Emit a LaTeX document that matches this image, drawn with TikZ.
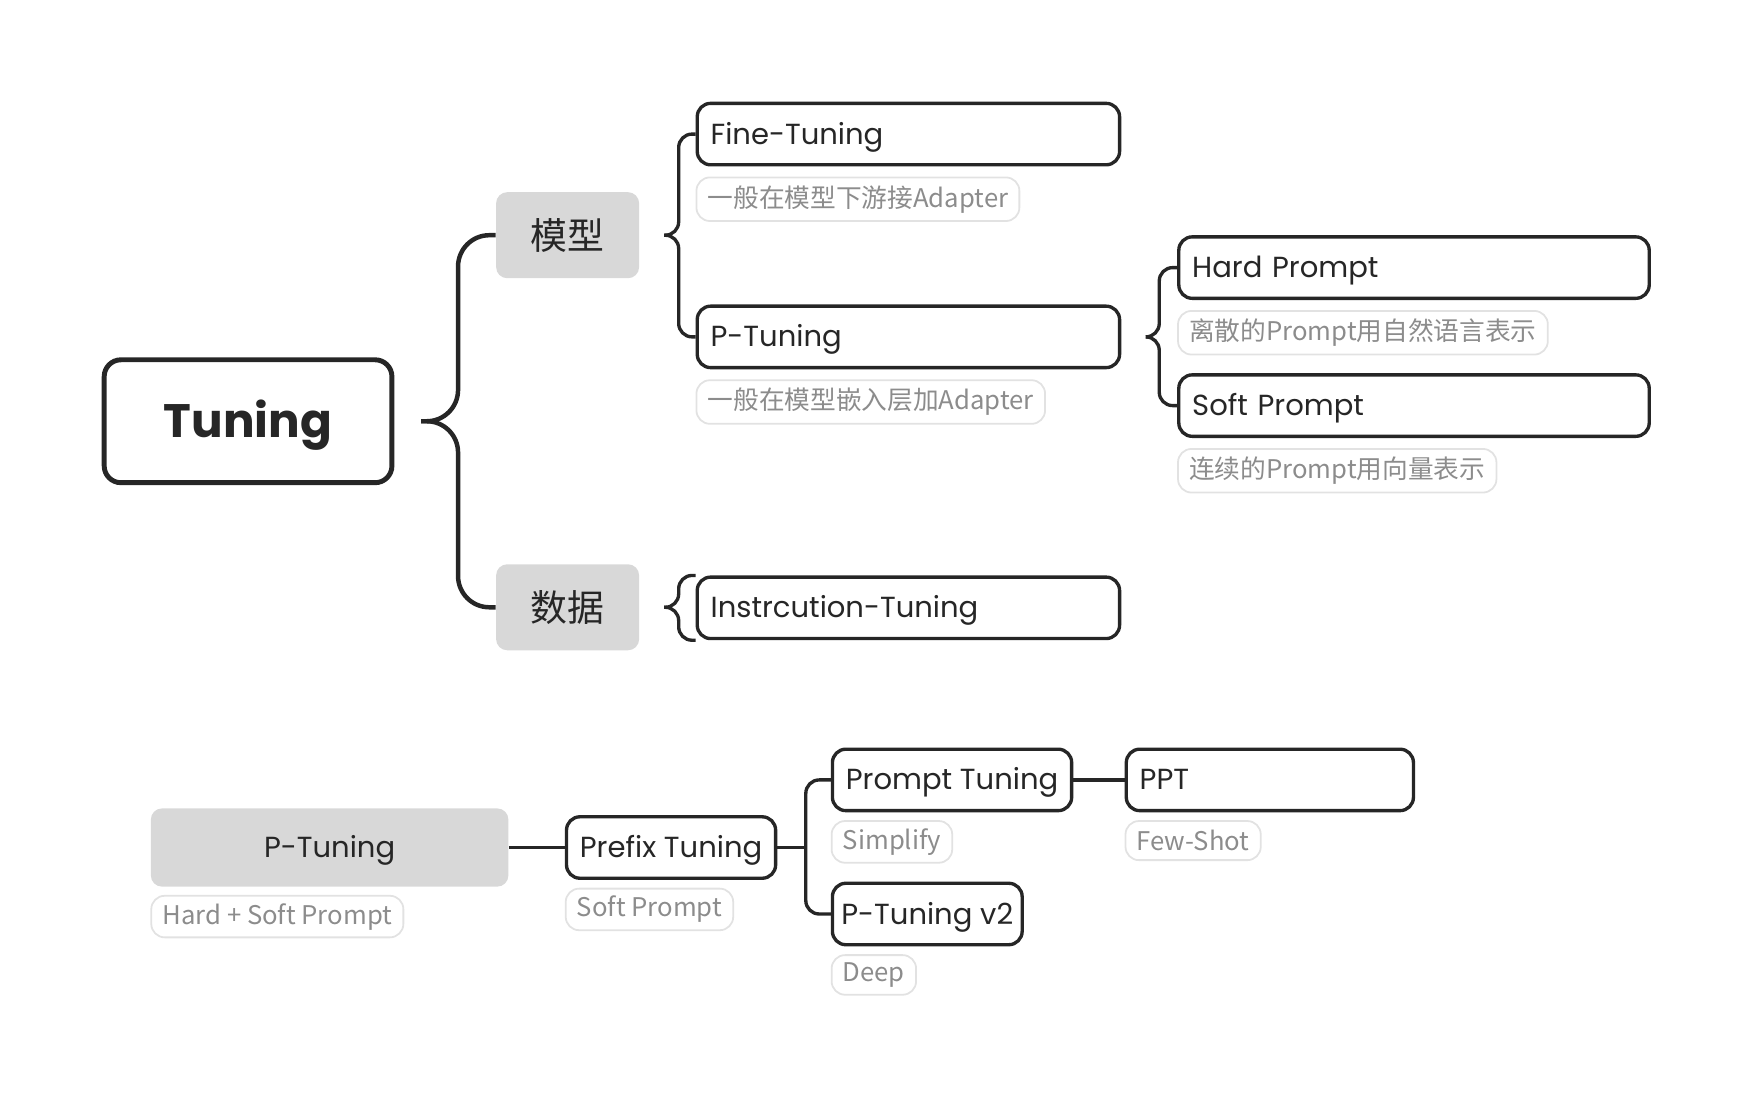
\documentclass[tikz,border=0pt]{standalone}
\usepackage{fontspec}
\setmainfont{Poppins}
\newfontfamily\cjk{Noto Sans CJK SC}
\usetikzlibrary{positioning}
\definecolor{ink}{HTML}{262626}
\definecolor{greyFill}{HTML}{D8D8D8}
\definecolor{noteText}{HTML}{8C8C8C}
\definecolor{noteLine}{HTML}{E2E2E2}
\tikzstyle{rootBox} = [draw=ink, line width=2.2pt, rounded corners=7.5pt,
   minimum width=128.75pt, minimum height=55pt, text=ink,
   text height=17pt, text depth=2.3pt,
   font=\fontsize{21}{24}\selectfont\bfseries]
\tikzstyle{greyBox} = [fill=greyFill, rounded corners=5pt, text=ink]
\tikzstyle{topicBox} = [greyBox, minimum width=64pt, minimum height=38.5pt,
   font=\cjk\fontsize{16.5}{18}\selectfont]
\tikzstyle{itemBox} = [draw=ink, line width=1.5pt, rounded corners=6pt,
   anchor=west, inner xsep=6pt, minimum height=27.5pt, align=left,
   text height=11pt, text depth=2pt,
   text=ink, font=\fontsize{13}{15}\selectfont]
\tikzstyle{noteBox} = [draw=noteLine, line width=0.8pt, rounded corners=6pt,
   inner xsep=5pt, minimum height=19.5pt, text=noteText,
   font=\cjk\fontsize{11.5}{13}\selectfont]
\tikzstyle{link} = [draw=ink, line width=1.5pt, rounded corners=6pt]
\tikzstyle{rootLink} = [draw=ink, line width=2pt, rounded corners=14pt]
\begin{document}
\begin{tikzpicture}[x=0.5pt, y=-0.5pt]
  \useasboundingbox (0,0) rectangle (1568,984.5);

  % upper map
  \node[rootBox] (tun) at (222,377) {Tuning};
  \node[topicBox] (mx) at (508,210.5) {模型};
  \node[topicBox] (sj) at (508,543.5) {数据};

  \node[itemBox, text width=177pt] (ft) at (622.5,120) {Fine-Tuning};
  \node[noteBox, below right=4.5pt and 0pt of ft.south west] (ftn) {一般在模型下游接Adapter};
  \node[itemBox, text width=177pt] (pt) at (622.5,301.5) {P-Tuning};
  \node[noteBox, below right=4.5pt and 0pt of pt.south west] (ptn) {一般在模型嵌入层加Adapter};
  \node[itemBox, text width=198.5pt] (hp) at (1053.5,239.5) {Hard Prompt};
  \node[noteBox, below right=4.5pt and 0pt of hp.south west] (hpn) {离散的Prompt用自然语言表示};
  \node[itemBox, text width=198.5pt] (sp) at (1053.5,363) {Soft Prompt};
  \node[noteBox, below right=4.5pt and 0pt of sp.south west] (spn) {连续的Prompt用向量表示};
  \node[itemBox, text width=177pt] (it) at (622.5,544) {Instrcution-Tuning};

  % brace tips and stems
  \coordinate[right=12pt of tun.east] (tunc);
  \coordinate[right=28.5pt of tun.east] (tunv);
  \coordinate[right=11pt of mx.east] (mxc);
  \coordinate[right=17.5pt of mx.east] (mxv);
  \coordinate[right=11pt of sj.east] (sjc);
  \coordinate[right=17.5pt of sj.east] (sjv);
  \coordinate[right=12pt of pt.east] (ptc);
  \coordinate[right=17pt of pt.east] (ptv);

  \draw[rootLink] (tunc) -- (tunv) |- (mx.west);
  \draw[rootLink] (tunc) -- (tunv) |- (sj.west);
  \draw[link] (mxc) -- (mxv) |- (ft.west);
  \draw[link] (mxc) -- (mxv) |- (pt.west);
  \draw[link] (ptc) -- (ptv) |- (hp.west);
  \draw[link] (ptc) -- (ptv) |- (sp.west);
  \draw[link] (sjc) -- (sjv) |- (it.north west);
  \draw[link] (sjc) -- (sjv) |- (it.south west);

  % lower map
  \node[greyBox, minimum width=160pt, minimum height=35pt,
    text height=11pt, text depth=2pt,
    font=\fontsize{13}{15}\selectfont] (pb) at (295,758.5) {P-Tuning};
  \node[noteBox, minimum height=17.5pt, below right=3.5pt and 0pt of pb.south west] (pbn) {Hard + Soft Prompt};
  \node[itemBox] (pf) at (505.5,758.5) {Prefix Tuning};
  \node[noteBox, minimum height=17.5pt, below right=3.5pt and 0pt of pf.south west] (pfn) {Soft Prompt};
  \node[itemBox] (prt) at (743.5,698) {Prompt Tuning};
  \node[noteBox, minimum height=17.5pt, below right=3.5pt and 0pt of prt.south west] (prtn) {Simplify};
  \node[itemBox, inner xsep=4pt] (v2) at (743.5,818) {P-Tuning v2};
  \node[noteBox, minimum height=17.5pt, below right=3.5pt and 0pt of v2.south west] (v2n) {Deep};
  \node[itemBox, text width=116.5pt] (ppt) at (1006.5,698) {PPT};
  \node[noteBox, minimum height=17.5pt, below right=3.5pt and 0pt of ppt.south west] (pptn) {Few-Shot};

  \coordinate[right=12.75pt of pf.east] (pfv);
  \draw[link] (pb.east) -- (pf.west);
  \draw[link] (pf.east) -- (pfv);
  \draw[link] (prt.west) -| (pfv) |- (v2.west);
  \draw[link] (prt.east) -- (ppt.west);
\end{tikzpicture}
\end{document}
